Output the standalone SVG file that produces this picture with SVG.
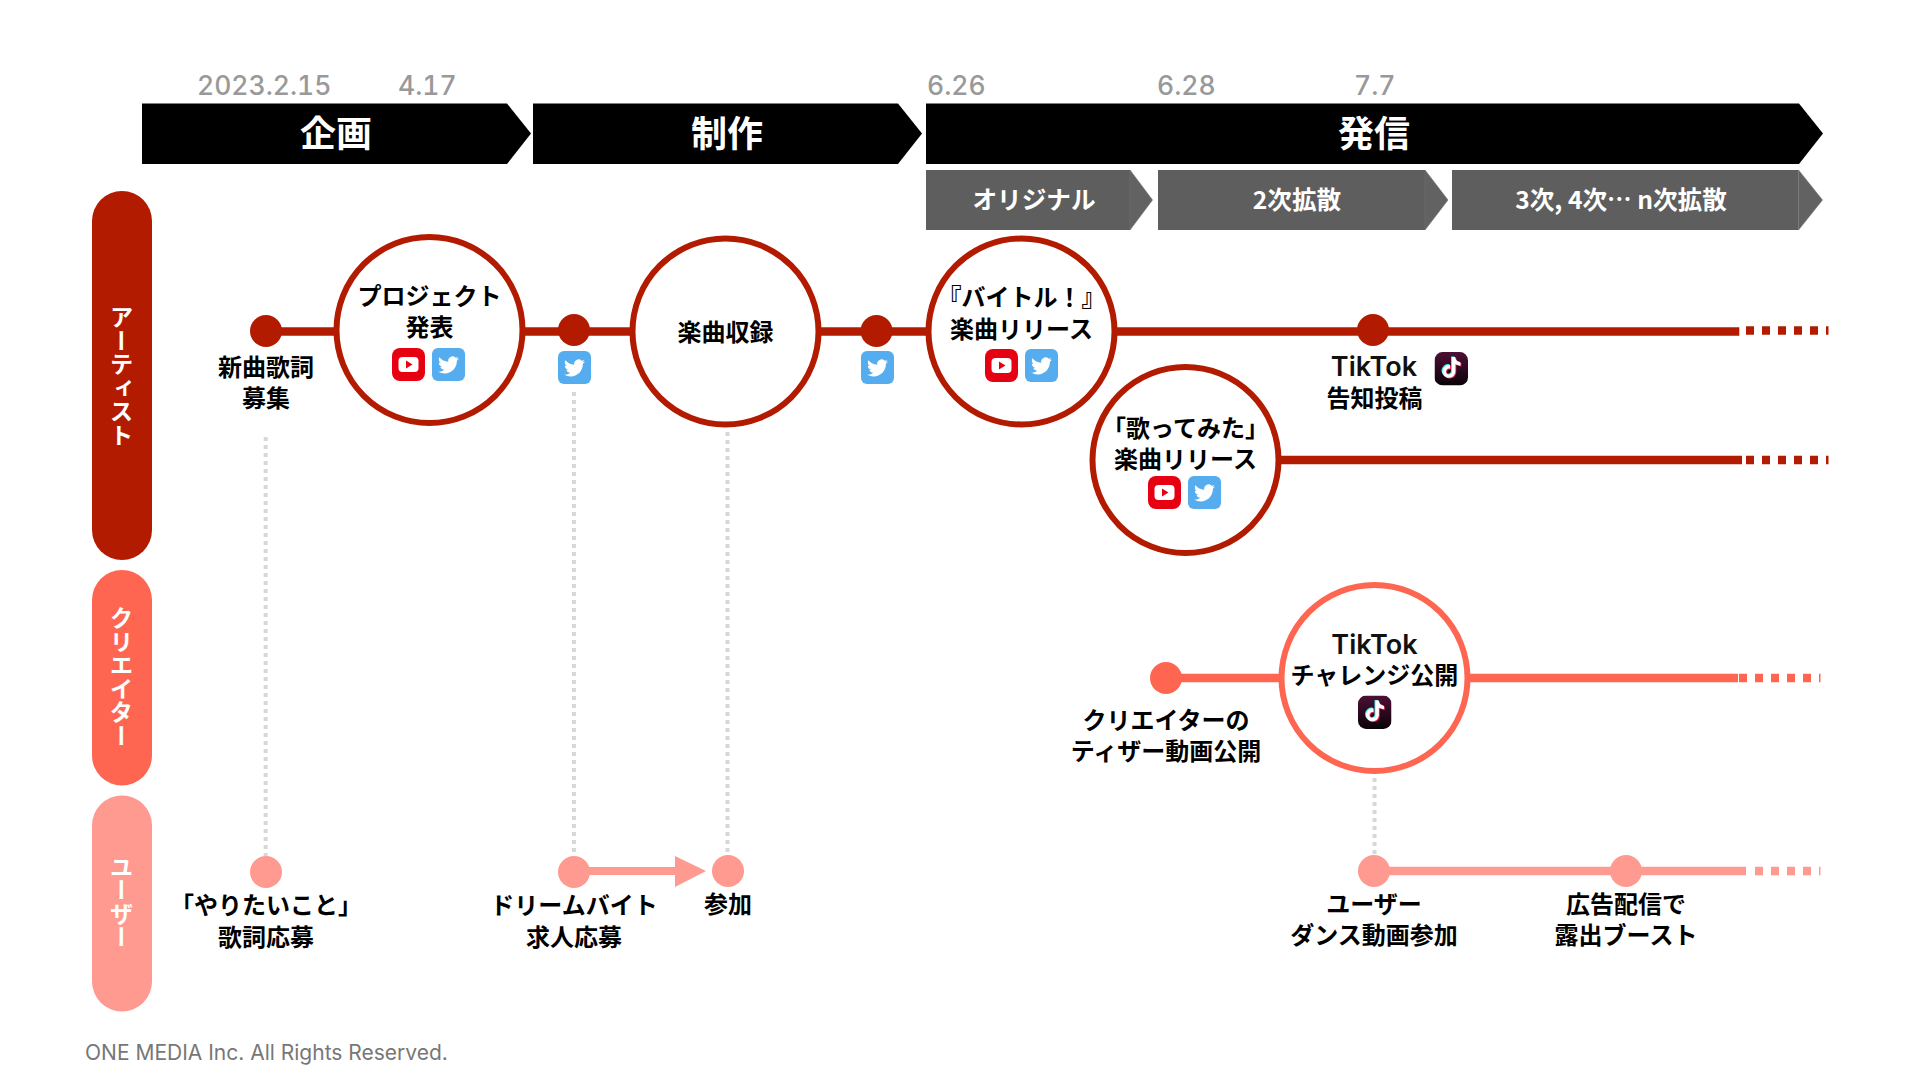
<svg xmlns="http://www.w3.org/2000/svg" xmlns:xlink="http://www.w3.org/1999/xlink" width="1920" height="1080" viewBox="0 0 1920 1080">
<style>
text{font-family:"Noto Sans CJK JP","Noto Sans",sans-serif}
.l{font-size:24px;font-weight:700;fill:#000;text-anchor:middle}
.lat{font-family:"Inter","Noto Sans CJK JP",sans-serif;font-size:27px;font-weight:600;fill:#111;text-anchor:middle}
.d{font-family:"Inter","Noto Sans",sans-serif;font-size:26.500px;font-weight:500;fill:#999;font-feature-settings:"tnum"}
.h{font-size:36px;font-weight:700;fill:#fff;text-anchor:middle}
.s{font-size:24.600px;font-weight:700;fill:#fff;text-anchor:middle}
.v{font-size:23.500px;font-weight:700;fill:#fff;text-anchor:middle;writing-mode:vertical-rl}
.c{fill:#fff;stroke-width:6}
.dk{fill:#b31b00}.dks{stroke:#b31b00}
.md{fill:#ff6652}.mds{stroke:#ff6652}
.lt{fill:#ff9a90}.lts{stroke:#ff9a90}
.ln{fill:none;stroke-width:8.500}
.da{fill:none;stroke-width:8.500;stroke-dasharray:8 8}
.g{fill:none;stroke:#d8d8d8;stroke-width:4;stroke-dasharray:4 4}
.gb{fill:#5e5e5e}.gh{fill:#626262;stroke:#707070;stroke-width:.6}
</style>
<defs>
<symbol id="yt" viewBox="0 0 33 33"><rect width="33" height="33" rx="8" fill="#e60012"/><rect x="6.5" y="9" width="20" height="15" rx="4" fill="#fff"/><path d="M14 12.5l6.500 4-6.500 4z" fill="#e60012"/></symbol>
<symbol id="tw" viewBox="0 0 33 33"><rect width="33" height="33" rx="6" fill="#55acee"/><g transform="translate(6 6.500) scale(.875)"><path fill="#fff" d="M23.953 4.57a10 10 0 01-2.825.775 4.958 4.958 0 002.163-2.723c-.951.555-2.005.959-3.127 1.184a4.92 4.920 0 00-8.384 4.482C7.690 8.095 4.067 6.130 1.640 3.162a4.822 4.822 0 00-.666 2.475c0 1.710.870 3.213 2.188 4.096a4.904 4.904 0 01-2.228-.616v.06a4.923 4.923 0 003.946 4.827 4.996 4.996 0 01-2.212.085 4.936 4.936 0 004.604 3.417 9.867 9.867 0 01-6.102 2.105c-.390 0-.779-.023-1.170-.067a13.995 13.995 0 007.557 2.209c9.053 0 13.998-7.496 13.998-13.985 0-.210 0-.420-.015-.630A9.935 9.935 0 0024 4.590z"/></g></symbol>
<linearGradient id="tkg" x1="0" y1="0" x2="0" y2="1"><stop offset="0" stop-color="#4d1035"/><stop offset="1" stop-color="#0a0208"/></linearGradient>
<path id="nt" d="M12.525.02c1.310-.02 2.610-.01 3.910-.02.080 1.530.630 3.090 1.750 4.170 1.120 1.110 2.700 1.620 4.240 1.790v4.030c-1.440-.050-2.890-.350-4.200-.970-.570-.260-1.100-.590-1.620-.930-.010 2.920.010 5.840-.020 8.750-.080 1.400-.540 2.790-1.350 3.940-1.310 1.920-3.580 3.170-5.910 3.210-1.430.080-2.860-.310-4.080-1.030-2.020-1.190-3.440-3.370-3.650-5.710-.020-.500-.030-1-.010-1.490.180-1.900 1.120-3.720 2.580-4.960 1.660-1.440 3.980-2.130 6.150-1.720.020 1.480-.040 2.960-.040 4.440-.990-.320-2.150-.230-3.020.370-.630.410-1.110 1.040-1.360 1.750-.210.510-.150 1.070-.140 1.610.240 1.640 1.820 3.020 3.500 2.870 1.120-.010 2.190-.660 2.770-1.610.190-.330.400-.670.410-1.060.100-1.790.060-3.570.070-5.360.010-4.030-.010-8.050.020-12.070z"/>
<symbol id="tk" viewBox="0 0 33 33"><rect width="33" height="33" rx="8" fill="url(#tkg)"/><g transform="translate(6.500 5) scale(.85)"><use xlink:href="#nt" href="#nt" x="-1" y="-.8" fill="#25f4ee"/><use xlink:href="#nt" href="#nt" x="1" y=".8" fill="#fe2c55"/><use xlink:href="#nt" href="#nt" fill="#fff"/></g></symbol>
</defs>

<g id="dates">
<text class="d" x="197" y="94.500">2023.2.15</text>
<text class="d" x="398" y="94.500">4.17</text>
<text class="d" x="927" y="94.500">6.26</text>
<text class="d" x="1157" y="94.500">6.28</text>
<text class="d" x="1354" y="94.500">7.7</text>
</g>

<g id="phase-kikaku"><path d="M142 103.500H507L531 133.500 507 164H142z" fill="#000"/><text class="h" x="336" y="147">企画</text></g>
<g id="phase-seisaku"><path d="M533 103.500H898L922 133.500 898 164H533z" fill="#000"/><text class="h" x="727" y="147">制作</text></g>
<g id="phase-hasshin"><path d="M926 103.500H1799L1823 133.500 1799 164H926z" fill="#000"/><text class="h" x="1374" y="147">発信</text></g>

<g id="stage-original"><path class="gb" d="M926 170H1130V230H926z"/><path class="gh" d="M1130 170L1152.500 200 1130 230z"/><text class="s" x="1034" y="209">オリジナル</text></g>
<g id="stage-2"><path class="gb" d="M1158 170H1425V230H1158z"/><path class="gh" d="M1425 170L1448 200 1425 230z"/><text class="s" x="1297" y="209">2次拡散</text></g>
<g id="stage-3"><path class="gb" d="M1452 170H1798.500V230H1452z"/><path class="gh" d="M1798.500 170L1822.500 200 1798.500 230z"/><text class="s" x="1621" y="209">3次, 4次… n次拡散</text></g>

<g id="lane-artist"><rect class="dk" x="92" y="191" width="60" height="369" rx="30"/><text class="v" x="121.500" y="376">アーティスト</text></g>
<g id="lane-creator"><rect class="md" x="92" y="570" width="60" height="215.500" rx="30"/><text class="v" x="121.500" y="677">クリエイター</text></g>
<g id="lane-user"><rect class="lt" x="92" y="795.500" width="60" height="216" rx="30"/><text class="v" x="121.500" y="902">ユーザー</text></g>

<g id="connectors">
<path class="g" d="M265.700 437V856"/>
<path class="g" d="M574 392V856"/>
<path class="g" d="M727.500 432V856"/>
<path class="g" d="M1374.500 778V856"/>
<path class="ln dks" d="M266 331.500H1739.300"/>
<path class="da dks" d="M1746 330.500H1828.500"/>
<path class="ln dks" d="M1281 460H1742"/>
<path class="da dks" d="M1746 460H1828.500"/>
<path class="ln mds" d="M1166 678H1738"/>
<path class="da mds" d="M1739 678H1820.500"/>
<path class="ln lts" d="M1374 871H1746"/>
<path class="da lts" d="M1755 871H1820.500"/>
<path class="lt" d="M574 867H675V856L706 871 675 887V875H574z"/>
</g>

<g id="dot-a1"><circle class="dk" cx="266" cy="331" r="16"/><text class="l" x="266" y="375.500">新曲歌詞</text><text class="l" x="266" y="406.500">募集</text></g>
<g id="dot-a2"><circle class="dk" cx="574" cy="330" r="16"/><use href="#tw" xlink:href="#tw" x="558" y="351" width="33" height="33"/></g>
<g id="dot-a3"><circle class="dk" cx="876.500" cy="331" r="16"/><use href="#tw" xlink:href="#tw" x="861" y="351" width="33" height="33"/></g>
<g id="dot-a4"><circle class="dk" cx="1373" cy="330" r="16"/><text class="lat" x="1374" y="376">TikTok</text><use href="#tk" xlink:href="#tk" x="1434.500" y="352" width="33.500" height="33.500"/><text class="l" x="1374.500" y="407">告知投稿</text></g>

<g id="node-project"><circle class="c dks" cx="429.500" cy="330" r="93"/><text class="l" x="429.500" y="304.500">プロジェクト</text><text class="l" x="429.500" y="336">発表</text><use href="#yt" xlink:href="#yt" x="392" y="348" width="33" height="33"/><use href="#tw" xlink:href="#tw" x="432" y="348" width="33" height="33"/></g>
<g id="node-recording"><circle class="c dks" cx="725.500" cy="331.500" r="93"/><text class="l" x="725.500" y="341">楽曲収録</text></g>
<g id="node-release"><circle class="c dks" cx="1021.500" cy="331.500" r="93"/><text class="l" x="1021.500" y="306">『バイトル！』</text><text class="l" x="1021.500" y="337.500">楽曲リリース</text><use href="#yt" xlink:href="#yt" x="985" y="349" width="33" height="33"/><use href="#tw" xlink:href="#tw" x="1025" y="349" width="33" height="33"/></g>
<g id="node-cover"><circle class="c dks" cx="1185.500" cy="460" r="93"/><text class="l" x="1185.500" y="436.500">「歌ってみた」</text><text class="l" x="1185.500" y="468">楽曲リリース</text><use href="#yt" xlink:href="#yt" x="1148" y="476" width="33" height="33"/><use href="#tw" xlink:href="#tw" x="1188" y="476" width="33" height="33"/></g>

<g id="dot-c1"><circle class="md" cx="1166" cy="678" r="16"/><text class="l" x="1166" y="728.500">クリエイターの</text><text class="l" x="1166" y="759.500">ティザー動画公開</text></g>
<g id="node-challenge"><circle class="c mds" cx="1374.500" cy="678" r="93"/><text class="lat" x="1374.500" y="654">TikTok</text><text class="l" x="1374.500" y="683.500">チャレンジ公開</text><use href="#tk" xlink:href="#tk" x="1358" y="695.500" width="33.500" height="33.500"/></g>

<g id="dot-u1"><circle class="lt" cx="266" cy="872" r="16"/><text class="l" x="266" y="913.500">「やりたいこと」</text><text class="l" x="266" y="945.500">歌詞応募</text></g>
<g id="dot-u2"><circle class="lt" cx="574" cy="872" r="16"/><text class="l" x="574" y="913.500">ドリームバイト</text><text class="l" x="574" y="945.500">求人応募</text></g>
<g id="dot-u3"><circle class="lt" cx="728" cy="871" r="16"/><text class="l" x="728" y="913">参加</text></g>
<g id="dot-u4"><circle class="lt" cx="1374" cy="871" r="16"/><text class="l" x="1374" y="912.500">ユーザー</text><text class="l" x="1374" y="944">ダンス動画参加</text></g>
<g id="dot-u5"><circle class="lt" cx="1626" cy="871" r="16"/><text class="l" x="1626" y="912.500">広告配信で</text><text class="l" x="1626" y="944">露出ブースト</text></g>

<text x="85" y="1060" style="font-family:'Inter','Noto Sans',sans-serif;font-size:21px;fill:#777">ONE MEDIA Inc. All Rights Reserved.</text>
</svg>
